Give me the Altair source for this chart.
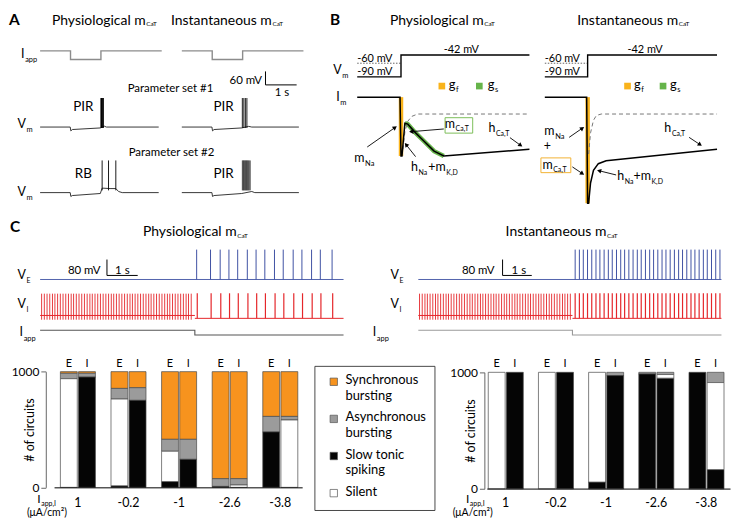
import math
import altair as alt
import pandas as pd

# ------------------------------------------------------------------ data
IAPP = ["1", "-0.2", "-1", "-2.6", "-3.8"]
CELLS = ["E", "I"]
STATES = ["Synchronous bursting", "Asynchronous bursting", "Slow tonic spiking", "Silent"]
LEGEND_TEXT = ["Synchronous\nbursting", "Asynchronous\nbursting", "Slow tonic\nspiking", "Silent"]
STATE_COLORS = ["#F7931E", "#9B9B9B", "#050505", "#FFFFFF"]
STACK_ORDER = ["Slow tonic spiking", "Silent", "Asynchronous bursting", "Synchronous bursting"]

# number of circuits (of 1000) per I_app level, in IAPP order
PHYS_E_SYNC = [14, 145, 585, 925, 387]
PHYS_E_ASYNC = [47, 92, 103, 67, 134]
PHYS_E_TONIC = [0, 14, 50, 8, 479]
PHYS_E_SILENT = [939, 749, 262, 0, 0]
PHYS_I_SYNC = [14, 139, 585, 925, 387]
PHYS_I_ASYNC = [33, 109, 173, 55, 31]
PHYS_I_TONIC = [953, 752, 242, 0, 0]
PHYS_I_SILENT = [0, 0, 0, 20, 582]
INST_E_SYNC = [0, 0, 0, 0, 0]
INST_E_ASYNC = [0, 0, 0, 14, 0]
INST_E_TONIC = [0, 0, 58, 986, 1000]
INST_E_SILENT = [1000, 1000, 942, 0, 0]
INST_I_SYNC = [0, 0, 0, 0, 0]
INST_I_ASYNC = [0, 0, 28, 19, 88]
INST_I_TONIC = [1000, 1000, 972, 950, 165]
INST_I_SILENT = [0, 0, 0, 31, 747]

# Panel A traces (time in s, I_app in a.u., V in mV)
A_IAPP_T = [0, 1, 1, 2, 2, 4]
A_IAPP_V = [0, 0, -1, -1, 0, 0]
A1_VM1_T = [0, 0.99, 1.01, 1.06, 1.98, 2.11, 2.18, 3.9]
A1_VM1_V = [-60, -60, -77, -71, -64, -56, -60, -60]
A1_VM1_SPIKES = [2.0, 2.02, 2.04, 2.06, 2.08]
A2_VM1_T = [0, 0.99, 1.01, 1.06, 1.97, 2.2, 2.3, 3.85]
A2_VM1_V = [-60, -60, -77, -71, -64, -57, -60, -60]
A2_VM1_SPIKES = [1.99, 2.04, 2.09, 2.14]
A_VM1_SPIKE_BASE = -64
A_VM1_PEAK = 69
A1_VM2_T = [0, 0.99, 1.01, 1.06, 1.98, 2.04, 2.3, 2.49, 2.58, 2.7, 3.9]
A1_VM2_V = [-60, -60, -77, -73, -64, -40, -42, -42, -55, -60, -60]
A1_VM2_SPIKES = [2.04, 2.25, 2.49]
A2_VM2_T = [0, 0.99, 1.01, 1.06, 1.97, 2.3, 2.4, 3.85]
A2_VM2_V = [-60, -60, -77, -73, -64, -55, -60, -60]
A2_VM2_SPIKES = [1.99, 2.01, 2.03, 2.05, 2.07, 2.09, 2.11, 2.13, 2.15, 2.17, 2.19, 2.22, 2.25]
A_VM2_SPIKE_BASE = -50
A_VM2_PEAK = 83

# Panel B traces (time in ms, V in mV, I_m in a.u.)
B1_VM_T = [-225, 0, 0, 660]
B2_VM_T = [-220, 0, 0, 665]
B_VM_V = [-90, -90, -42, -42]
B1_HOLD_T = [-225, 0]
B2_HOLD_T = [-220, 0]
B_HOLD_V = [-60, -60]
B1_IM_T = [-225, -5, 0, 5, 20, 35, 70, 120, 170, 220, 660]
B1_IM_V = [0, 0, -61, -61, -27, -28, -36, -46, -56, -61, -54]
B1_GS_T = [20, 35, 70, 120, 170, 220]
B1_GS_V = [-27, -28, -36, -46, -56, -61]
B1_GF_T = [0, 0]
B1_GF_V = [0, -61]
B1_DASH_T = [10, 20, 35, 55, 85, 660]
B1_DASH_V = [-54, -36, -25, -20, -17.5, -17.5]
B2_IM_T = [-220, -5, 0, 5, 15, 30, 55, 95, 665]
B2_IM_V = [0, 0, -110, -110, -89, -76, -69, -66, -54]
B2_GF_T = [0, 0]
B2_GF_V = [0, -110]
B2_DASH_T = [5, 15, 30, 45, 70, 665]
B2_DASH_V = [-59, -37, -24, -19, -17.5, -17.5]

# Panel C traces (time in s, V in mV)
C_IAPP_V = [0, 0, -1, -1]
C1_IAPP_T = [0, 5.13, 5.13, 10.06]
C2_IAPP_T = [0, 5.11, 5.11, 10.05]
C_VE_REST = -65
C_VE_PEAK = 90
C_VI_REST = -65
C_VI_PRE_LEVEL = -50
C_VI_AHP = -72
C_VI_PEAK = 63
C1_VI_PRE = [0.05, 0.14, 0.23, 0.32, 0.41, 0.49, 0.58, 0.67, 0.76, 0.85, 0.94, 1.03, 1.11, 1.20,
             1.29, 1.38, 1.47, 1.56, 1.65, 1.73, 1.82, 1.91, 2.00, 2.09, 2.18, 2.27, 2.36, 2.44,
             2.53, 2.62, 2.71, 2.80, 2.89, 2.98, 3.06, 3.15, 3.24, 3.33, 3.42, 3.51, 3.60, 3.68,
             3.77, 3.86, 3.95, 4.04, 4.13, 4.22, 4.30, 4.39, 4.48, 4.57, 4.66, 4.75, 4.84, 4.92, 5.01]
C1_VE_POST = [5.19, 5.65, 5.97, 6.26, 6.55, 6.87, 7.16, 7.45, 7.77, 8.06, 8.39, 8.68, 9.00, 9.29, 9.68]
C1_VI_POST = [5.21, 5.67, 5.99, 6.28, 6.57, 6.89, 7.18, 7.47, 7.79, 8.08, 8.41, 8.70, 9.02, 9.31, 9.70]
C2_VI_PRE = [0.04, 0.13, 0.22, 0.30, 0.39, 0.48, 0.57, 0.65, 0.74, 0.83, 0.92, 1.00, 1.09, 1.18,
             1.27, 1.36, 1.44, 1.53, 1.62, 1.71, 1.79, 1.88, 1.97, 2.06, 2.14, 2.23, 2.32, 2.41,
             2.50, 2.58, 2.67, 2.76, 2.85, 2.93, 3.02, 3.11, 3.20, 3.28, 3.37, 3.46, 3.55, 3.64,
             3.72, 3.81, 3.90, 3.99, 4.07, 4.16, 4.25, 4.34, 4.42, 4.51, 4.60, 4.69, 4.78, 4.86,
             4.95, 5.04]
C2_VE_POST = [5.20, 5.34, 5.47, 5.61, 5.75, 5.89, 6.02, 6.16, 6.30, 6.43, 6.57, 6.71, 6.84, 6.98,
              7.12, 7.26, 7.39, 7.53, 7.67, 7.80, 7.94, 8.08, 8.21, 8.35, 8.49, 8.63, 8.76, 8.90,
              9.04, 9.17, 9.31, 9.45, 9.58, 9.72, 9.86, 10.00]
C2_VI_POST = list(C2_VE_POST)

# ------------------------------------------------------------------ helpers
SX = 724 / 740
SY = 509 / 525
FONT = "Lato"
ONE = alt.Data(values=[{"k": 0}])
GF_COL = "#F9B31B"
GS_COL = "#66B44A"
BLUE = "#3F52A3"
RED = "#E5262A"
COLOR_SC = alt.Scale(domain=STATES, range=STATE_COLORS)


class Panel:
    def __init__(self, x0, y0, x1, y1):
        self.x0, self.y0, self.x1, self.y1 = x0, y0, x1, y1
        self.layers = []

    def X(self, x):
        return round((x - self.x0) * SX, 2)

    def Y(self, y):
        return round((y - self.y0) * SY, 2)

    def add(self, layer):
        self.layers.append(layer)

    def text(self, x, y, s, size=12, align="left", color="black", weight="normal",
             baseline="alphabetic", angle=0):
        props = dict(text=s, align=align, baseline=baseline, font=FONT, fontSize=size,
                     color=color, fontWeight=weight)
        if angle:
            props["angle"] = angle
        self.add(alt.Chart(ONE).mark_text(**props).encode(
            x=alt.value(self.X(x)), y=alt.value(self.Y(y))))

    def sub(self, x, y, base, s, size=12.5, ssize=7.5, dy=4, color="black"):
        self.text(x, y, base, size, "right", color)
        self.text(x + 0.6, y + dy, s, ssize, "left", color)

    def seg(self, x1, y1, x2, y2, color="black", width=1.0, dash=None):
        props = dict(color=color, strokeWidth=width)
        if dash:
            props["strokeDash"] = dash
        self.add(alt.Chart(ONE).mark_rule(**props).encode(
            x=alt.value(self.X(x1)), y=alt.value(self.Y(y1)),
            x2=alt.value(self.X(x2)), y2=alt.value(self.Y(y2))))

    def arrow(self, x1, y1, x2, y2, color="black", width=0.9):
        dx, dy = (x2 - x1) * SX, (y2 - y1) * SY
        L = math.hypot(dx, dy)
        ux, uy = dx / L, dy / L
        ang = math.degrees(math.atan2(dx, -dy)) % 360
        hx, hy = x2 - ux * 3.2 / SX, y2 - uy * 3.2 / SY
        self.seg(x1, y1, hx, hy, color, width)
        self.add(alt.Chart(ONE).mark_point(shape="triangle", filled=True, size=24, color=color,
                                           opacity=1, angle=round(ang, 1)).encode(
            x=alt.value(self.X(hx)), y=alt.value(self.Y(hy))))

    def box(self, x1, y1, x2, y2, stroke, width=1.0):
        self.add(alt.Chart(ONE).mark_rect(stroke=stroke, strokeWidth=width, fillOpacity=0).encode(
            x=alt.value(self.X(x1)), x2=alt.value(self.X(x2)),
            y=alt.value(self.Y(y1)), y2=alt.value(self.Y(y2))))

    def square(self, x, y, color, size=45):
        self.add(alt.Chart(ONE).mark_square(color=color, size=size, opacity=1).encode(
            x=alt.value(self.X(x)), y=alt.value(self.Y(y))))

    def xs(self, dom, px):
        return alt.Scale(domain=dom, range=[self.X(px[0]), self.X(px[1])], nice=False, zero=False)

    def ys(self, dom, py):
        return alt.Scale(domain=dom, range=[self.Y(py[0]), self.Y(py[1])], nice=False, zero=False)

    def chart(self):
        return alt.layer(*self.layers).resolve_scale(y="independent").properties(
            width=round((self.x1 - self.x0) * SX, 2), height=round((self.y1 - self.y0) * SY, 2))


def line_layer(t, v, xs, ys, color, width=1.0, dash=None):
    df = pd.DataFrame({"t": t, "v": v, "i": list(range(len(t)))})
    props = dict(color=color, strokeWidth=width)
    if dash:
        props["strokeDash"] = dash
    return alt.Chart(df).mark_line(**props).encode(
        x=alt.X("t:Q", scale=xs, axis=None), y=alt.Y("v:Q", scale=ys, axis=None),
        order=alt.Order("i:Q"))


def spikes_layer(times, base, peak, xs, ys, color, width=0.9):
    n = len(times)
    df = pd.DataFrame({"t": times, "v0": [base] * n, "v1": [peak] * n})
    return alt.Chart(df).mark_rule(color=color, strokeWidth=width).encode(
        x=alt.X("t:Q", scale=xs, axis=None), y=alt.Y("v0:Q", scale=ys, axis=None), y2="v1:Q")


# ------------------------------------------------------------------ row 1 : panel A
A1 = Panel(0, 0, 168, 206)
A1.text(1, 16.5, "A", 15.5, weight="bold")
A1.sub(141.5, 16, "Physiological m", "CaT", 14, 6.5, 1.5)
A1.sub(17, 50, "I", "app", 12.5, 7.5, 4.5)
A1.sub(18.5, 123, "V", "m", 12.5, 7.5, 4)
A1.sub(18.5, 194, "V", "m", 12.5, 7.5, 4)
A1.text(167, 86, "Parameter set #1", 11.5, "center")
A1.text(168, 152, "Parameter set #2", 11.5, "center")
A1.text(77.5, 105, "PIR", 13.5, "center")
A1.text(77.5, 175, "RB", 13.5, "center")
xa1 = A1.xs([0, 4], [33, 158])
A1.add(line_layer(A_IAPP_T, A_IAPP_V, xa1, A1.ys([-1, 0], [52, 43]), "#8C8C8C", 1.4))
y = A1.ys([-80, 80], [126.67, 89.33])
A1.add(alt.layer(line_layer(A1_VM1_T, A1_VM1_V, xa1, y, "#222", 0.9),
                 spikes_layer(A1_VM1_SPIKES, A_VM1_SPIKE_BASE, A_VM1_PEAK, xa1, y, "black", 1.0)))
y = A1.ys([-80, 90], [194.67, 155])
A1.add(alt.layer(line_layer(A1_VM2_T, A1_VM2_V, xa1, y, "#222", 0.9),
                 spikes_layer(A1_VM2_SPIKES, A_VM2_SPIKE_BASE, A_VM2_PEAK, xa1, y, "black", 0.9)))

A2 = Panel(168, 0, 318, 206)
A2.sub(270.5, 16, "Instantaneous m", "CaT", 14, 6.5, 1.5)
A2.text(221, 105, "PIR", 13.5, "center")
A2.text(221, 175, "PIR", 13.5, "center")
A2.text(260.5, 77, "60 mV", 11.5, "right")
A2.seg(264, 64.3, 264, 78.3)
A2.seg(264, 78.3, 296, 78.3)
A2.text(281, 90, "1 s", 11.5, "center")
xa2 = A2.xs([0, 4], [178, 303])
A2.add(line_layer(A_IAPP_T, A_IAPP_V, xa2, A2.ys([-1, 0], [52, 43]), "#8C8C8C", 1.4))
y = A2.ys([-80, 80], [126.67, 89.33])
A2.add(alt.layer(line_layer(A2_VM1_T, A2_VM1_V, xa2, y, "#222", 0.9),
                 spikes_layer(A2_VM1_SPIKES, A_VM1_SPIKE_BASE, A_VM1_PEAK, xa2, y, "black", 0.9)))
y = A2.ys([-80, 90], [194.67, 155])
A2.add(alt.layer(line_layer(A2_VM2_T, A2_VM2_V, xa2, y, "#222", 0.9),
                 spikes_layer(A2_VM2_SPIKES, A_VM2_SPIKE_BASE, A_VM2_PEAK, xa2, y, "#333", 0.8)))

# ------------------------------------------------------------------ row 1 : panel B
B1 = Panel(318, 0, 540, 206)
B1.text(330, 16.5, "B", 15.5, weight="bold")
B1.sub(488, 16, "Physiological m", "CaT", 14, 6.5, 1.5)
B1.sub(342, 67, "V", "m", 12.5, 7.5, 4)
B1.sub(340, 95, "I", "m", 12.5, 7.5, 4)
B1.text(358, 54.3, "-60 mV", 11)
B1.text(358, 68, "-90 mV", 11)
B1.text(465, 45, "-42 mV", 11, "center")
B1.square(445, 79.5, GF_COL, 45)
B1.sub(459, 82.5, "g", "f", 13, 7.5, 3)
B1.square(483.5, 79.5, GS_COL, 45)
B1.sub(499, 82.5, "g", "s", 13, 7.5, 3)
xb1 = B1.xs([-225, 660], [358, 535])
yv = B1.ys([-90, -42], [70, 47.3])
B1.add(alt.layer(line_layer(B1_HOLD_T, B_HOLD_V, xb1, yv, "#666", 1.0, [1.5, 1.5]),
                 line_layer(B1_VM_T, B_VM_V, xb1, yv, "black", 1.4)))
yi = B1.ys([-110, 0], [201, 91])
B1.add(alt.layer(line_layer(B1_GF_T, B1_GF_V, xb1, yi, GF_COL, 4.5),
                 line_layer(B1_GS_T, B1_GS_V, xb1, yi, GS_COL, 4.5),
                 line_layer(B1_DASH_T, B1_DASH_V, xb1, yi, "#777", 1.0, [4, 3]),
                 line_layer(B1_IM_T, B1_IM_V, xb1, yi, "black", 1.5)))
B1.sub(365.5, 158, "m", "Na", 12.5, 7.5, 4)
B1.arrow(368.3, 142.7, 399, 121)
B1.box(448.3, 112.3, 476.7, 128.3, "#7DBE5A", 1.0)
B1.sub(458.5, 123, "m", "Ca,T", 12.5, 7, 3.5)
B1.arrow(447, 124, 411, 127)
B1.sub(500, 127, "h", "Ca,T", 12.5, 7, 4)
B1.arrow(515, 133, 528, 142.5)
B1.sub(420.5, 168, "h", "Na", 12.5, 7, 4)
B1.sub(449, 168, "+m", "K,D", 12.5, 7, 4)
B1.arrow(418, 152.7, 406.7, 138.3)

B2 = Panel(540, 0, 740, 206)
B2.sub(687, 16, "Instantaneous m", "CaT", 14, 6.5, 1.5)
B2.text(550, 54.3, "-60 mV", 11)
B2.text(550, 68, "-90 mV", 11)
B2.text(653, 45, "-42 mV", 11, "center")
B2.square(635, 79.5, GF_COL, 45)
B2.sub(648.5, 82.5, "g", "f", 13, 7.5, 3)
B2.square(671.5, 79.5, GS_COL, 45)
B2.sub(685.5, 82.5, "g", "s", 13, 7.5, 3)
xb2 = B2.xs([-220, 665], [550, 727])
yv = B2.ys([-90, -42], [70, 47.3])
B2.add(alt.layer(line_layer(B2_HOLD_T, B_HOLD_V, xb2, yv, "#666", 1.0, [1.5, 1.5]),
                 line_layer(B2_VM_T, B_VM_V, xb2, yv, "black", 1.4)))
yi = B2.ys([-110, 0], [201, 91])
B2.add(alt.layer(line_layer(B2_GF_T, B2_GF_V, xb2, yi, GF_COL, 4.5),
                 line_layer(B2_DASH_T, B2_DASH_V, xb2, yi, "#777", 1.0, [4, 3]),
                 line_layer(B2_IM_T, B2_IM_V, xb2, yi, "black", 1.5)))
B2.sub(560, 130, "m", "Na", 12.5, 7.5, 4)
B2.arrow(575, 132.7, 590.7, 121.7)
B2.text(552.5, 146, "+", 12.5, "center")
B2.box(546, 154, 576.7, 169.3, "#F2B233", 1.0)
B2.sub(558, 165, "m", "Ca,T", 12.5, 7, 3.5)
B2.arrow(578.3, 163.3, 590.7, 171.7)
B2.sub(680, 127, "h", "Ca,T", 12.5, 7, 4)
B2.arrow(698.3, 132.7, 711.7, 141.7)
B2.sub(631.5, 177, "h", "Na", 12.5, 7, 4)
B2.sub(659, 177, "+m", "K,D", 12.5, 7, 4)
B2.arrow(623.3, 171.7, 603.3, 166.7)

# ------------------------------------------------------------------ row 2 : panel C traces
def c_panel(P, t0_px, vi_pre, vi_post, ve_post, iapp_t, iapp_col):
    xs = P.xs([0, 10], [t0_px, t0_px + 310])
    ye = P.ys([-70, 95], [276.7, 243.7])
    P.add(alt.layer(line_layer([0, iapp_t[-1]], [C_VE_REST, C_VE_REST], xs, ye, BLUE, 0.9),
                    spikes_layer(ve_post, C_VE_REST, C_VE_PEAK, xs, ye, BLUE, 1.0)))
    yi = P.ys([-75, 70], [318, 289])
    P.add(alt.layer(line_layer([0, iapp_t[1]], [C_VI_PRE_LEVEL, C_VI_PRE_LEVEL], xs, yi, RED, 1.0),
                    line_layer([iapp_t[1], iapp_t[-1]], [C_VI_REST, C_VI_REST], xs, yi, RED, 1.0),
                    spikes_layer(vi_pre, C_VI_AHP, C_VI_PEAK, xs, yi, RED, 0.9),
                    spikes_layer(vi_post, C_VI_REST, C_VI_PEAK + 2, xs, yi, RED, 1.2)))
    P.add(line_layer(iapp_t, C_IAPP_V, xs, P.ys([-1, 0], [333.3, 328.3]), iapp_col, 1.1))


C1 = Panel(0, 206, 370, 346)
C1.text(2, 226, "C", 15.5, weight="bold")
C1.sub(235, 231, "Physiological m", "CaT", 14, 6.5, 1.5)
C1.text(95, 269.5, "80 mV", 11.5, "right")
C1.seg(101.7, 255, 101.7, 271.5)
C1.seg(101.7, 271.5, 133.3, 271.5)
C1.text(117.5, 269.5, "1 s", 11.5, "center")
C1.sub(18.5, 275, "V", "E", 12.5, 7, 4.5)
C1.sub(18.5, 305, "V", "I", 12.5, 7, 4.5)
C1.sub(15.5, 334, "I", "app", 12.5, 7.5, 5)
c_panel(C1, 33, C1_VI_PRE, C1_VI_POST, C1_VE_POST, C1_IAPP_T, "#555")

C2 = Panel(370, 206, 740, 346)
C2.sub(615, 231, "Instantaneous m", "CaT", 14, 6.5, 1.5)
C2.text(500, 269.5, "80 mV", 11.5, "right")
C2.seg(508.3, 255, 508.3, 271.5)
C2.seg(508.3, 271.5, 538.3, 271.5)
C2.text(525, 269.5, "1 s", 11.5, "center")
C2.sub(401.7, 275, "V", "E", 12.5, 7, 4.5)
C2.sub(401.7, 305, "V", "I", 12.5, 7, 4.5)
C2.sub(378.5, 334, "I", "app", 12.5, 7.5, 5)
c_panel(C2, 421.7, C2_VI_PRE, C2_VI_POST, C2_VE_POST, C2_IAPP_T, "#9A9A9A")

# ------------------------------------------------------------------ row 3 : bar charts
def bar_df(e_lists, i_lists):
    rows = []
    for cell, lists in (("E", e_lists), ("I", i_lists)):
        for state, vals in zip(STATES, lists):
            for lvl, v in zip(IAPP, vals):
                if v > 0:
                    rows.append(dict(Iapp=lvl, cell=cell, state=state, count=v,
                                     ord=STACK_ORDER.index(state)))
    return pd.DataFrame(rows)


def bars(P, df, band_px, y_px, title_dx, base_px):
    xsc = alt.Scale(domain=IAPP, range=[P.X(band_px[0]), P.X(band_px[1])],
                    paddingInner=0.3077, paddingOuter=0)
    xo = alt.Scale(domain=CELLS, paddingInner=0.07, paddingOuter=0)
    ysc = alt.Scale(domain=[0, 1000], range=[P.Y(y_px[0]), P.Y(y_px[1])], nice=False)
    ax = alt.Axis(values=[0, 1000], format="d", title="# of circuits", grid=False,
                  domainColor="#666", tickColor="#666", tickSize=5, labelFont=FONT,
                  labelFontSize=12, labelColor="black", labelPadding=2, titleFont=FONT,
                  titleFontSize=12.5, titleFontWeight="normal", titleColor="black",
                  titleX=round(title_dx * SX, 2), titleY=round((P.Y(y_px[0]) + P.Y(y_px[1])) / 2, 2),
                  titleAngle=270, titleAlign="center", titleBaseline="middle")
    P.add(alt.Chart(df).mark_bar(stroke="#4a4a4a", strokeWidth=0.7).encode(
        x=alt.X("Iapp:N", scale=xsc, axis=None),
        xOffset=alt.XOffset("cell:N", scale=xo),
        y=alt.Y("count:Q", stack="zero", scale=ysc, axis=ax),
        color=alt.Color("state:N", scale=COLOR_SC, legend=None),
        order=alt.Order("ord:Q")))
    cells = pd.DataFrame([dict(Iapp=l, cell=c) for l in IAPP for c in CELLS])
    P.add(alt.Chart(cells).mark_text(font=FONT, fontSize=11, baseline="alphabetic",
                                     color="black").encode(
        x=alt.X("Iapp:N", scale=xsc, axis=None), xOffset=alt.XOffset("cell:N", scale=xo),
        y=alt.value(P.Y(366)), text="cell:N"))
    lv = pd.DataFrame({"Iapp": IAPP})
    P.add(alt.Chart(lv).mark_text(font=FONT, fontSize=12.5, baseline="alphabetic", color="black").encode(
        x=alt.X("Iapp:N", scale=xsc, axis=None), y=alt.value(P.Y(511)), text="Iapp:N"))
    P.seg(base_px[0], base_px[2], base_px[1], base_px[2], "black", 1.0)


SP = Panel(0, 346, 38, 525)
SP.sub(33.5, 507, "I", "app,I", 12, 7, 3)
SP.text(40, 521, "(\u03bcA/cm\u00b2)", 10.5, "center")

BL = Panel(38, 346, 313, 525)
bars(BL, bar_df([PHYS_E_SYNC, PHYS_E_ASYNC, PHYS_E_TONIC, PHYS_E_SILENT],
                [PHYS_I_SYNC, PHYS_I_ASYNC, PHYS_I_TONIC, PHYS_I_SILENT]),
     [53, 297], [491, 371], -17, [47, 302, 491.5])

LG = Panel(313, 346, 487, 525)
LG.box(313.6, 365.5, 437, 515, "#333", 0.9)
leg = pd.DataFrame({"state": STATES, "label": LEGEND_TEXT})
ly = alt.Scale(type="point", domain=STATES, range=[LG.Y(381.5), LG.Y(497)], padding=0)
LG.add(alt.Chart(leg).mark_square(size=55, stroke="#555", strokeWidth=0.7, opacity=1).encode(
    x=alt.value(LG.X(333)), y=alt.Y("state:N", scale=ly, axis=None),
    color=alt.Color("state:N", scale=COLOR_SC, legend=None)))
LG.add(alt.Chart(leg).mark_text(font=FONT, fontSize=13, align="left", baseline="top", dy=-7.5,
                                lineBreak="\n", lineHeight=15.5, color="black").encode(
    x=alt.value(LG.X(345)), y=alt.Y("state:N", scale=ly, axis=None), text="label:N"))

BR = Panel(487, 346, 740, 525)
bars(BR, bar_df([INST_E_SYNC, INST_E_ASYNC, INST_E_TONIC, INST_E_SILENT],
                [INST_I_SYNC, INST_I_ASYNC, INST_I_TONIC, INST_I_SILENT]),
     [491, 733], [492.5, 371.7], -14, [490, 740, 492.8])
BR.sub(471.5, 507, "I", "app,I", 12, 7, 3)
BR.text(475, 521, "(\u03bcA/cm\u00b2)", 10.5, "center")

# ------------------------------------------------------------------ assemble
row1 = alt.hconcat(A1.chart(), A2.chart(), B1.chart(), B2.chart(), spacing=0, bounds="flush")
row2 = alt.hconcat(C1.chart(), C2.chart(), spacing=0, bounds="flush")
row3 = alt.hconcat(SP.chart(), BL.chart(), LG.chart(), BR.chart(), spacing=0, bounds="flush")
chart = alt.vconcat(row1, row2, row3, spacing=0).properties(padding=0).configure_view(strokeWidth=0)

chart.save("out.html", embed_options={"renderer": "svg", "actions": False})
